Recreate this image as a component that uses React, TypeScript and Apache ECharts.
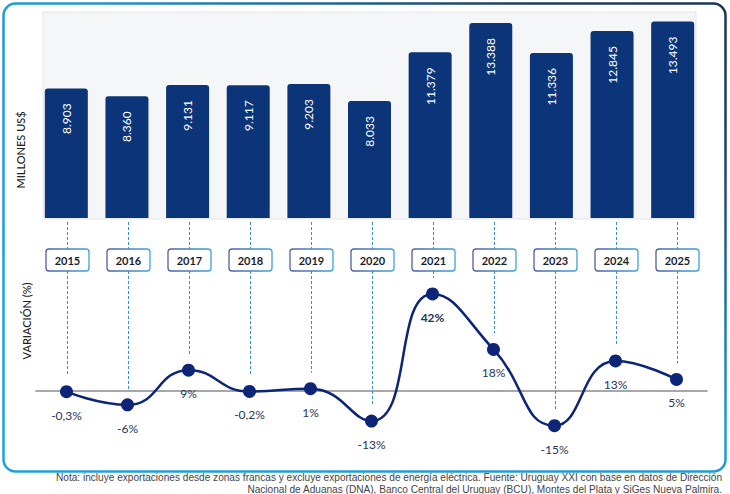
import React, { useEffect, useRef } from "react";
import * as echarts from "echarts";

const years = ["2015", "2016", "2017", "2018", "2019", "2020", "2021", "2022", "2023", "2024", "2025"];
const exportValues = [8903, 8360, 9131, 9117, 9203, 8033, 11379, 13388, 11336, 12845, 13493];
const variation = [-0.3, -6, 9, -0.2, 1, -13, 42, 18, -15, 13, 5];
const footLines = [
  "Nota: incluye exportaciones desde zonas francas y excluye exportaciones de energía eléctrica. Fuente: Uruguay XXI con base en datos de Dirección",
  "Nacional de Aduanas (DNA), Banco Central del Uruguay (BCU), Montes del Plata y SiGes Nueva Palmira.",
];

const NAVY = "#0b3578";
const LINE = "#0c2577";
const DASH = "#3a8fc6";
const FONT = "Lato, 'Noto Sans', sans-serif";

function fmtThousands(v: number) {
  return String(v).replace(/\B(?=(\d{3})+(?!\d))/g, ".");
}
function fmtPct(v: number) {
  return String(v).replace(".", ",") + "%";
}

export default function App() {
  const ref = useRef<HTMLDivElement>(null);
  useEffect(() => {
    document.body.style.margin = "0";
    const chart = echarts.init(ref.current!, null, { renderer: "svg" });
    const maxVar = Math.max(...variation);
    const option: any = {
      animation: false,
      backgroundColor: "#ffffff",
      grid: [
        { left: 36, width: 667, top: 12, height: 206 },
        { left: 36, width: 671, top: 275.5, height: 161.7 },
      ],
      xAxis: [
        {
          type: "category",
          gridIndex: 0,
          data: years,
          axisLine: { show: false },
          axisTick: { show: false },
          axisLabel: { show: false },
        },
        {
          type: "category",
          gridIndex: 1,
          data: years,
          axisLine: { show: true, onZero: true, lineStyle: { color: "#8a8a8a", width: 1.5 } },
          axisTick: { show: false },
          axisLabel: { show: false },
        },
      ],
      yAxis: [
        {
          type: "value",
          gridIndex: 0,
          min: 0,
          max: 14150,
          axisLine: { show: false },
          axisTick: { show: false },
          axisLabel: { show: false },
          splitLine: { show: false },
        },
        {
          type: "value",
          gridIndex: 1,
          min: -20,
          max: 50,
          axisLine: { show: false },
          axisTick: { show: false },
          axisLabel: { show: false },
          splitLine: { show: false },
        },
      ],
      graphic: [
        {
          type: "rect",
          z: -10,
          shape: { x: 43, y: 12, width: 653, height: 207 },
          style: { fill: "#f5f6f7", stroke: "#e3e5e7", lineWidth: 1 },
        },
        {
          type: "rect",
          z: 100,
          shape: { x: 3.5, y: 3.5, width: 722, height: 468, r: 12 },
          style: {
            fill: "none",
            lineWidth: 2.5,
            stroke: new echarts.graphic.LinearGradient(0, 1, 1, 0, [
              { offset: 0, color: "#1fa2dc" },
              { offset: 0.55, color: "#1f9ad4" },
              { offset: 0.85, color: "#1d3f66" },
              { offset: 1, color: "#1b3556" },
            ]),
          },
        },
        {
          type: "text",
          x: 20,
          y: 150,
          rotation: Math.PI / 2,
          style: {
            text: "MILLONES US$",
            font: `500 11px ${FONT}`,
            fill: "#1e1e1e",
            align: "center",
            verticalAlign: "middle",
          },
        },
        {
          type: "text",
          x: 26,
          y: 321,
          rotation: Math.PI / 2,
          style: {
            text: "VARIACIÓN (%)",
            font: `500 11px ${FONT}`,
            fill: "#1e1e1e",
            align: "center",
            verticalAlign: "middle",
          },
        },
        ...footLines.map((t, i) => ({
          type: "text",
          x: 722,
          y: 477 + i * 12,
          style: {
            text: t,
            font: "10.1px 'Liberation Sans', Arial, sans-serif",
            fill: "#444444",
            align: "right",
            verticalAlign: "middle",
          },
        })),
      ],
      series: [
        {
          type: "bar",
          xAxisIndex: 0,
          yAxisIndex: 0,
          data: exportValues,
          barWidth: 43,
          itemStyle: { color: NAVY, borderRadius: [3, 3, 0, 0] },
          label: {
            show: true,
            position: "insideTop",
            rotate: 90,
            align: "right",
            verticalAlign: "middle",
            distance: 15,
            color: "#ffffff",
            fontSize: 12,
            fontFamily: FONT,
            formatter: (p: any) => fmtThousands(p.value),
          },
        },
        {
          type: "custom",
          xAxisIndex: 1,
          yAxisIndex: 1,
          clip: false,
          z: 1,
          data: variation.map((v, i) => [i, v]),
          renderItem: (params: any, api: any) => {
            const i = api.value(0);
            const v = api.value(1);
            const p = api.coord([i, v]);
            const x = Math.round(p[0]) + 0.5;
            const boxTop = 249;
            const boxH = 22;
            const boxW = 43;
            return {
              type: "group",
              children: [
                {
                  type: "line",
                  shape: { x1: x, y1: 222, x2: x, y2: boxTop },
                  style: { stroke: DASH, lineWidth: 1, lineDash: [3, 2] },
                },
                {
                  type: "line",
                  shape: { x1: x, y1: boxTop + boxH, x2: x, y2: p[1] - 16 },
                  style: { stroke: DASH, lineWidth: 1, lineDash: [3, 2] },
                },
                {
                  type: "rect",
                  shape: { x: x - boxW / 2, y: boxTop, width: boxW, height: boxH, r: 3 },
                  style: {
                    fill: "#ffffff",
                    lineWidth: 1.3,
                    stroke: new echarts.graphic.LinearGradient(0, 0, 1, 0, [
                      { offset: 0, color: "#4f5fa3" },
                      { offset: 1, color: "#3fa3d6" },
                    ]),
                  },
                },
                {
                  type: "text",
                  style: {
                    text: years[i],
                    x: x,
                    y: boxTop + boxH / 2 + 0.5,
                    align: "center",
                    verticalAlign: "middle",
                    font: `bold 11px ${FONT}`,
                    fill: "#1b1e2e",
                  },
                },
              ],
            };
          },
        },
        {
          type: "line",
          xAxisIndex: 1,
          yAxisIndex: 1,
          z: 5,
          data: variation,
          smooth: 0.5,
          symbol: "circle",
          symbolSize: 13,
          itemStyle: { color: LINE },
          lineStyle: { color: LINE, width: 2.5 },
          label: {
            show: true,
            position: "bottom",
            distance: 11,
            color: "#26355a",
            fontSize: 12,
            fontFamily: FONT,
            formatter: (p: any) =>
              p.value === maxVar ? `{b|${fmtPct(p.value)}}` : fmtPct(p.value),
            rich: {
              b: { fontWeight: "bold", fontSize: 12, color: "#26355a", fontFamily: FONT },
            },
          },
        },
      ],
    };
    chart.setOption(option);
    return () => chart.dispose();
  }, []);
  return <div ref={ref} style={{ width: 730, height: 494 }} />;
}
